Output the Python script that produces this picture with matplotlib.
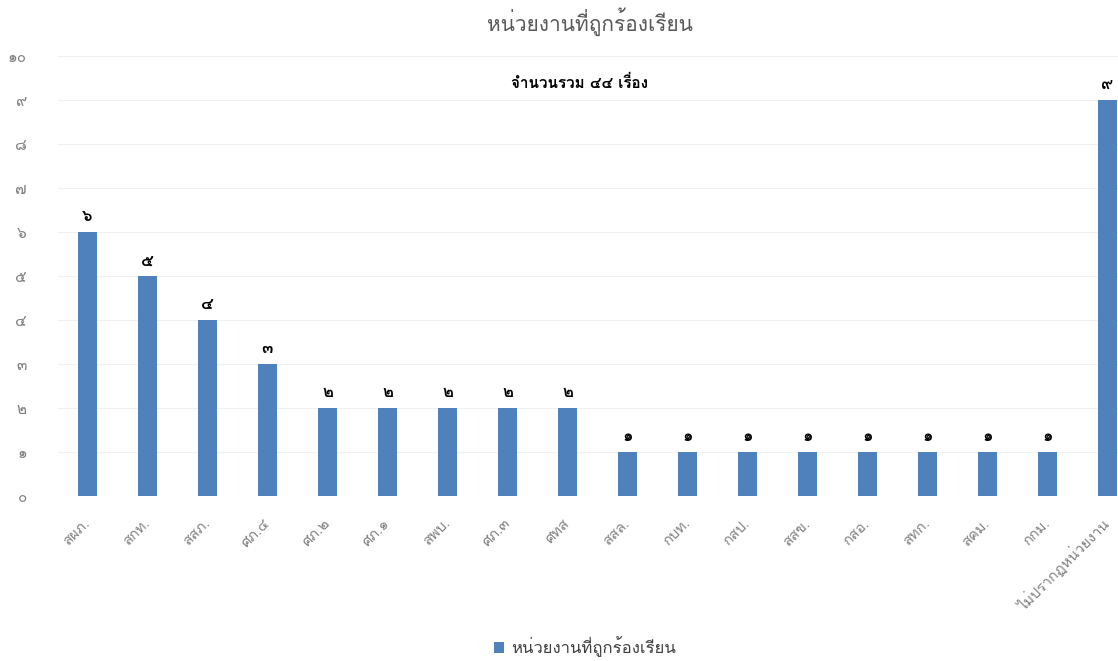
import matplotlib
matplotlib.use('Agg')
import matplotlib.pyplot as plt
import numpy as np

plt.rcParams['font.family'] = ['Loma', 'DejaVu Sans']

# data
units = ['สผภ.', 'สกท.', 'สสภ.', 'ศภ.๔', 'ศภ.๒', 'ศภ.๑', 'สพบ.', 'ศภ.๓', 'ศทส',
         'สสล.', 'กบท.', 'กสป.', 'สสข.', 'กสอ.', 'สทก.', 'สคม.', 'กกม.',
         'ไม่ปรากฏหน่วยงาน']
counts = [6, 5, 4, 3, 2, 2, 2, 2, 2, 1, 1, 1, 1, 1, 1, 1, 1, 9]
thai_digits = '๐๑๒๓๔๕๖๗๘๙'
yticks = list(range(0, 11))

def to_thai(n):
    return ''.join(thai_digits[int(c)] for c in str(n))

W, H = 1118, 661
fig = plt.figure(figsize=(W / 100, H / 100), dpi=100)
fig.set_facecolor('white')
# axes spans a bit past the right edge, like the cropped original
ax = fig.add_axes([57.5 / W, 165 / H, 1080 / W, 440 / H])

x = np.arange(len(units))
bars = ax.bar(x, counts, 0.32, color='#4f81bd', label='หน่วยงานที่ถูกร้องเรียน', zorder=2)

ax.set_xlim(-0.5, len(units) - 0.5)
ax.set_ylim(0, 10)
ax.set_yticks(yticks)
ax.set_yticklabels([to_thai(v) for v in yticks], color='#7f7f7f', fontsize=11)
ax.tick_params(axis='y', length=0, pad=22)
ax.set_xticks(x)
ax.set_xticklabels(units, rotation=45, ha='right', va='center', rotation_mode='anchor',
                   color='#7f7f7f', fontsize=10.5)
ax.tick_params(axis='x', length=0, pad=18)
ax.yaxis.grid(True, color='#f0f0f0', linewidth=0.8, zorder=0)
for s in ax.spines.values():
    s.set_visible(False)

for rect, v in zip(bars, counts):
    ax.text(rect.get_x() + rect.get_width() / 2, v + 0.18, to_thai(v),
            ha='center', va='bottom', fontsize=12, fontweight='bold', color='black')

fig.text(590 / W, 1 - 22 / H, 'หน่วยงานที่ถูกร้องเรียน', ha='center', va='center',
         fontsize=15, color='#595959')
fig.text(580 / W, 1 - 83 / H, 'จำนวนรวม ๔๔ เรื่อง', ha='center', va='center',
         fontsize=11, fontweight='bold', color='black')

fig.legend(loc='center', bbox_to_anchor=(585 / W, 1 - 647 / H), frameon=False,
           fontsize=12, handlelength=0.6, handleheight=0.6, handletextpad=0.4,
           labelcolor='#404040')

fig.savefig('out.png', dpi=100)
